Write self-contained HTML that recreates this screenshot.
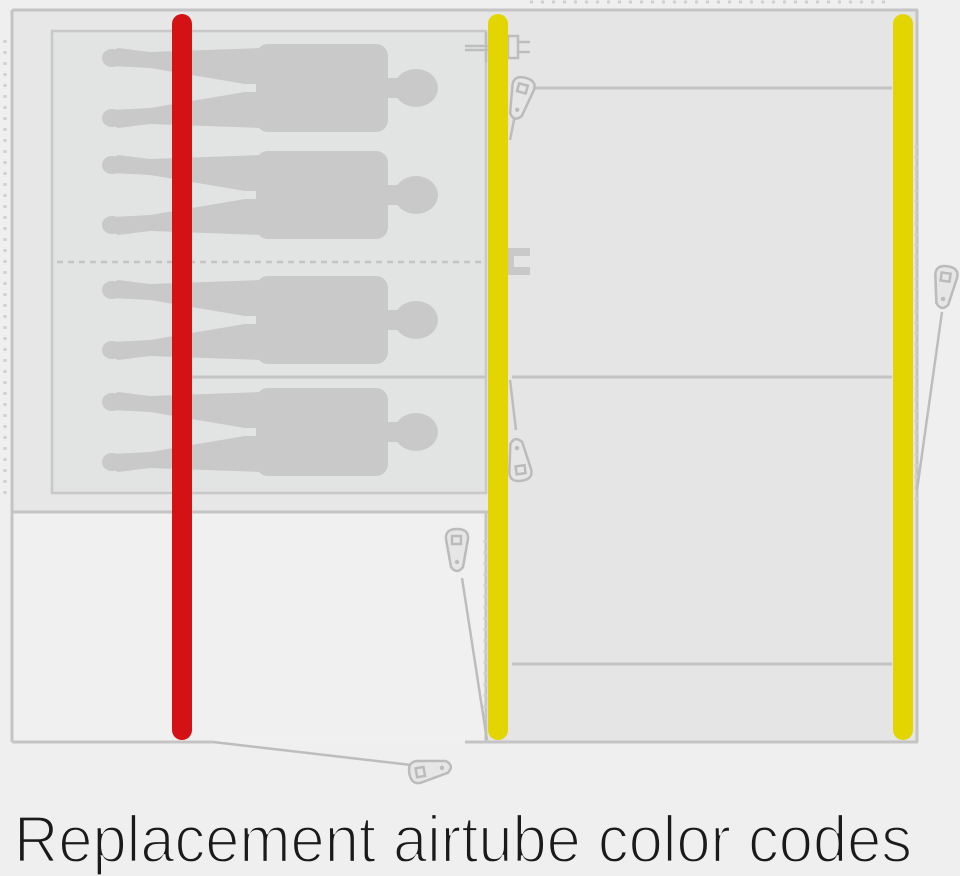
<!DOCTYPE html>
<html><head><meta charset="utf-8"><style>
html,body{margin:0;padding:0;background:#efefef;}
svg{display:block;}
</style></head><body>
<svg width="960" height="876" viewBox="0 0 960 876" xmlns="http://www.w3.org/2000/svg">
<defs>
<g id="p" fill="#c9c9c9">
  <rect x="256" y="-44" width="132" height="88" rx="12"/>
  <ellipse cx="416" cy="0" rx="22" ry="19"/>
  <rect x="380" y="-10" width="24" height="20"/>
  <polygon points="262,-40 150,-36 118,-40 104,-32 112,-22 150,-20 245,-4 262,-4"/>
  <polygon points="262,4 245,4 150,20 112,22 104,32 118,40 150,36 262,40"/>
  <ellipse cx="112" cy="-30" rx="10" ry="9"/>
  <ellipse cx="112" cy="30" rx="10" ry="9"/>
</g>
<g id="peg" fill="#e6e6e6" stroke="#bbb" stroke-width="2.5">
  <path d="M-11,-16 Q-12,-26 0,-26 Q12,-26 11,-16 L6,12 Q0,20 -6,12 Z"/>
  <rect x="-5" y="-19" width="9" height="8" fill="none"/>
  <circle cx="0" cy="7" r="2.2" fill="#bbb" stroke="none"/>
</g>
</defs>
<rect width="960" height="876" fill="#efefef"/>
<rect x="12" y="10" width="476" height="502" fill="#e7e7e7"/>
<rect x="12" y="512" width="476" height="230" fill="#f0f0f0"/>
<rect x="52" y="31" width="434" height="462" fill="#e2e3e3" stroke="#c8c8c8" stroke-width="2.5"/>
<rect x="488" y="10" width="429" height="732" fill="#e6e5e5"/>
<g stroke="#c4c4c4" stroke-width="3" fill="none">
  <line x1="12" y1="10" x2="918" y2="10"/>
  <line x1="12" y1="10" x2="12" y2="742"/>
  <line x1="12" y1="512" x2="488" y2="512"/>
  <line x1="12" y1="742" x2="213" y2="742"/>
  <line x1="465" y1="742" x2="918" y2="742"/>
  <line x1="917" y1="10" x2="917" y2="742"/>
  <line x1="512" y1="88" x2="892" y2="88"/>
  <line x1="190" y1="377" x2="486" y2="377"/>
  <line x1="512" y1="377" x2="892" y2="377"/>
  <line x1="512" y1="664" x2="892" y2="664"/>
  <line x1="486" y1="512" x2="486" y2="742"/>
</g>
<line x1="57" y1="262" x2="482" y2="262" stroke="#c4c4c4" stroke-width="2.5" stroke-dasharray="6,5"/>
<g stroke="#cfcfcf" stroke-width="3" stroke-dasharray="3,8" fill="none">
  <line x1="5" y1="40" x2="5" y2="495"/>
  <line x1="530" y1="2" x2="890" y2="2"/>
  <line x1="916" y1="145" x2="916" y2="500"/>
  <line x1="485" y1="540" x2="485" y2="710"/>
</g>
<use href="#p" y="88"/>
<use href="#p" y="195"/>
<use href="#p" y="320"/>
<use href="#p" y="432"/>
<g stroke="#bdbdbd" stroke-width="2.5" fill="none">
  <polyline points="213,742 420,766"/>
  <line x1="462" y1="578" x2="487" y2="740"/>
  <line x1="942" y1="312" x2="917" y2="490"/>
  <line x1="510" y1="380" x2="516" y2="430"/>
  <line x1="518" y1="100" x2="510" y2="140"/>
</g>
<use href="#peg" transform="translate(457,555)"/>
<use href="#peg" transform="translate(944,292) rotate(8)"/>
<use href="#peg" transform="translate(518,455) rotate(172)"/>
<use href="#peg" transform="translate(519,103) rotate(15)"/>
<use href="#peg" transform="translate(435,769) rotate(-100)"/>
<g stroke="#bdbdbd" stroke-width="2.5" fill="none">
  <line x1="465" y1="46" x2="488" y2="46"/><line x1="465" y1="50" x2="488" y2="50"/>
  <line x1="486" y1="32" x2="486" y2="62"/>
  <rect x="508" y="36" width="10" height="22"/>
  <line x1="518" y1="42" x2="530" y2="42"/><line x1="518" y1="52" x2="530" y2="52"/>
</g>
<g fill="#c9c9c9"><rect x="508" y="248" width="22" height="8"/><rect x="508" y="267" width="22" height="8"/><rect x="508" y="248" width="6" height="27"/></g>
<g stroke-linecap="round" stroke-width="20">
  <line x1="182" y1="24" x2="182" y2="730" stroke="#d41216"/>
  <line x1="498" y1="24" x2="498" y2="730" stroke="#e3d600"/>
  <line x1="903" y1="24" x2="903" y2="730" stroke="#e3d600"/>
</g>
<text x="14" y="862" font-family="Liberation Sans, sans-serif" font-size="66" fill="#1a1a1a" stroke="#efefef" stroke-width="2.2" textLength="898" lengthAdjust="spacingAndGlyphs">Replacement airtube color codes</text>
</svg>
</body></html>
